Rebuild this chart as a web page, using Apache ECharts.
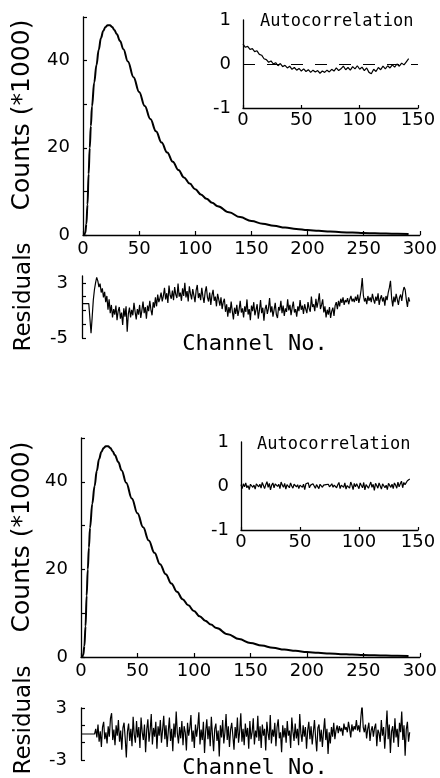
<!DOCTYPE html>
<html><head><meta charset="utf-8">
<script src="https://cdn.jsdelivr.net/npm/echarts@6.0.0/dist/echarts.min.js"></script>
<style>html,body{margin:0;padding:0;background:#fff}#c{width:440px;height:778px}</style>
</head><body><div id="c"></div>
<script>
// ---- data ----
var countsChannels = [0,1,2,3,4,5,6,7,8,10,12,14,16,18,20,22,24,26,28,30,33,36,40,45,50,55,60,65,70,75,80,85,90,95,100,105,110,115,120,130,140,150,160,170,180,190,200,210,220,230,240,250,260,270,280,290];
var countsTop = [0,0,0.5,2.5,7,14,20,25,29.5,35,39,42.5,45.2,46.8,47.7,48.1,48.1,47.7,47,46.1,44.5,42.6,39.8,36.2,32.8,29.6,26.6,23.8,21.2,18.9,16.8,14.9,13.2,11.8,10.5,9.3,8.3,7.4,6.6,5.2,4.1,3.2,2.6,2.1,1.7,1.4,1.15,0.95,0.8,0.65,0.55,0.45,0.38,0.32,0.27,0.23];
var countsBottom = [0,0,0.5,2.5,7,14,20,25,29.5,35,39,42.5,45.2,46.8,47.7,48.1,48.1,47.7,47,46.1,44.5,42.6,39.8,36.2,32.8,29.6,26.6,23.8,21.2,18.9,16.8,14.9,13.2,11.8,10.5,9.3,8.3,7.4,6.6,5.2,4.1,3.2,2.6,2.1,1.7,1.4,1.15,0.95,0.8,0.65,0.55,0.45,0.38,0.32,0.27,0.23];

var acfTopStep = 2; // channel spacing of the upper autocorrelation samples
var acfTop = [0.45,0.38,0.40,0.33,0.35,0.28,0.30,0.22,0.20,0.12,0.10,0.04,0.07,0.00,0.03,-0.04,0.01,-0.06,-0.03,-0.09,-0.05,-0.12,-0.08,-0.14,-0.10,-0.16,-0.11,-0.17,-0.13,-0.19,-0.14,-0.18,-0.15,-0.21,-0.16,-0.19,-0.14,-0.18,-0.12,-0.16,-0.09,-0.15,-0.11,-0.05,-0.13,-0.08,-0.14,-0.06,-0.11,-0.04,-0.12,-0.07,-0.15,-0.09,-0.19,-0.22,-0.12,-0.17,-0.08,-0.13,-0.05,-0.11,-0.04,-0.09,-0.02,-0.07,0.00,-0.05,0.02,-0.02,0.05,0.12];
var acfBottomStep = 1;
var acfBottom = [
 0.03,-0.06,0.05,-0.02,0.07,-0.04,0.01,-0.08,0.04,0.06,
 -0.03,0.02,-0.07,0.05,0.09,-0.02,0.04,-0.05,0.08,0.01,
 -0.06,0.03,0.10,-0.03,0.06,-0.09,0.02,0.07,-0.04,0.05,
 0.08,-0.01,0.04,-0.06,0.09,0.02,-0.03,0.06,-0.07,0.03,
 0.05,-0.04,0.07,0.00,-0.05,0.04,0.08,-0.02,0.03,-0.06,
 0.02,0.06,-0.03,0.04,-0.08,0.05,0.01,0.07,-0.04,0.02,
 -0.02,0.05,0.08,-0.05,0.03,0.00,-0.06,0.04,0.07,-0.03,
 0.02,-0.01,0.03,0.00,0.04,-0.02,0.01,0.05,-0.03,0.02,
 0.06,-0.04,0.03,0.08,-0.06,0.02,0.05,-0.03,0.07,-0.07,
 0.01,0.04,-0.05,0.09,0.02,-0.08,0.06,-0.02,0.05,0.03,
 -0.06,0.07,0.01,-0.04,0.08,-0.09,0.03,0.06,-0.05,0.02,
 0.09,-0.03,0.04,-0.10,0.06,0.01,-0.05,0.07,0.03,-0.07,
 0.05,0.08,-0.04,0.02,-0.08,0.06,0.10,-0.03,0.04,-0.06,
 0.07,0.02,-0.05,0.09,-0.02,0.05,0.11,-0.04,0.08,0.03,
 0.06,0.12,0.09,0.16];

var residStep = 1; // one residual per channel
var residTop = [
 0,0,0,0,0,0,0,0,-4.3,-2.0,
 0.5,2.0,3.0,3.8,3.3,2.4,2.9,1.6,2.2,0.9,
 1.7,0.2,1.1,-0.9,0.6,-1.4,-0.2,-2.0,-0.8,-1.6,
 -0.3,-2.4,-1.1,-0.5,-2.2,-1.3,-3.1,-0.7,-1.9,-0.4,
 -4.1,-1.5,-0.6,-2.0,-0.9,-1.7,0.1,-1.2,-2.3,-0.8,
 -1.6,-0.2,-2.1,-1.0,0.3,-1.4,-0.5,-2.2,-0.3,-1.1,
 0.4,-0.9,-1.7,0.2,-0.6,0.9,-0.4,1.3,0.2,0.8,
 1.6,0.3,1.1,2.3,0.6,1.5,0.1,2.6,1.2,0.7,
 1.9,0.5,2.4,1.3,0.8,2.9,1.0,1.6,0.4,2.2,
 1.1,3.0,0.9,1.8,0.3,2.5,1.4,0.6,2.1,1.2,
 0.2,1.9,2.7,0.8,1.5,0.5,2.3,1.0,0.1,1.7,
 2.5,0.9,0.3,1.6,-0.2,1.2,2.0,0.4,1.0,-0.4,
 1.4,0.6,-0.3,0.9,-0.8,0.2,0.7,-1.2,-0.1,-1.9,
 -0.5,-1.4,0.3,-1.1,-2.3,-0.6,-1.5,-0.2,-1.8,-0.9,
 0.4,-1.3,-0.7,-2.0,-0.4,-1.2,0.6,-1.6,-0.8,-2.4,
 -0.3,-1.1,0.2,-1.7,-0.9,-0.1,-2.2,-1.0,0.5,-1.4,
 -0.6,-2.5,-0.8,-0.2,-1.5,-0.7,0.8,-1.3,-0.4,-1.9,
 -0.9,0.1,-1.6,-2.1,-0.5,-1.0,0.4,-1.4,-0.3,-1.8,
 -0.7,-1.2,0.6,-1.0,-0.2,-1.7,-0.6,0.3,-1.3,-0.8,
 -1.9,-0.4,-1.1,0.5,-0.9,-0.3,-1.5,-0.1,-0.8,-1.4,
 0.2,-0.7,-1.2,1.0,-0.5,-0.1,-1.1,0.7,-0.6,0.3,
 1.5,-0.8,-0.2,0.6,-1.3,-0.4,-2.0,-0.9,-1.6,-0.5,
 -2.1,-1.1,-0.6,-1.8,-0.3,0.2,-0.8,0.4,-0.4,0.7,
 0.1,0.9,-0.2,0.5,0.2,0.8,-0.1,0.6,1.1,0.3,
 0.7,0.2,1.0,0.4,1.3,0.1,0.9,2.0,3.7,1.2,
 0.3,0.8,-0.1,1.1,0.4,0.9,0.2,1.4,0.6,0.0,
 1.0,0.4,1.5,-0.2,0.7,1.2,0.3,0.9,-0.3,1.1,
 0.5,1.6,2.3,3.3,0.8,-0.4,1.0,0.2,1.4,0.6,
 -0.2,0.9,1.3,0.4,1.7,2.4,2.0,0.6,-0.5,0.9,
 0.3];
var residBottom = [
 0,0,0,0,0,0,0,0,0,0,
 0,0,0,0.6,-0.4,1.1,-0.9,0.3,-1.5,0.8,
 1.4,-0.6,0.2,-1.1,0.9,-0.3,1.8,2.4,-0.7,0.5,
 -1.3,1.0,-0.2,1.6,-0.9,0.4,-1.8,0.7,1.3,-0.5,
 -2.7,0.3,1.2,-0.8,0.6,-1.4,2.0,-0.1,-1.0,1.5,
 -0.4,0.8,-1.6,1.9,0.2,-0.7,1.1,-2.1,0.5,1.7,
 -0.9,0.4,2.3,-1.2,0.7,-0.3,1.4,-1.7,0.9,-0.2,
 1.6,-1.0,0.5,2.1,-0.6,1.0,-1.5,0.3,1.9,-0.8,
 0.6,-2.0,1.2,-0.4,2.6,0.1,-1.1,0.8,-0.5,1.5,
 -1.3,0.9,0.2,-1.9,1.3,-0.2,0.7,2.2,-0.9,0.4,
 -1.6,1.1,-0.3,0.8,2.5,-1.2,0.5,-0.7,1.4,-2.2,
 0.3,1.7,-0.6,0.9,-1.4,2.0,-0.1,-2.0,0.6,1.2,
 -0.8,0.4,-2.6,1.0,-0.4,1.6,-1.1,0.2,2.3,-0.7,
 0.9,-1.5,0.5,1.3,-0.2,-1.8,0.8,-0.5,1.9,-1.0,
 0.3,2.4,-0.9,0.6,-1.3,1.2,-0.3,0.7,-1.7,1.5,
 -0.6,0.2,1.8,-1.2,0.4,-0.4,2.1,-0.8,0.9,-1.6,
 1.1,-0.2,0.6,-1.9,1.4,0.1,-0.7,2.2,-1.1,0.5,
 -0.3,1.3,-1.4,0.8,1.7,-0.5,0.2,-2.1,1.0,-0.4,
 0.7,-1.0,1.5,-0.2,0.4,-1.6,1.9,0.3,-0.8,1.2,
 -0.5,0.6,-1.3,2.3,0.1,-0.9,1.0,-0.3,0.8,-1.7,
 0.4,1.4,-0.6,0.9,-1.2,0.2,1.6,-0.4,-2.0,0.7,
 1.1,-0.9,0.5,-1.5,0.3,1.8,-0.7,0.6,-2.3,0.2,
 -1.1,0.8,-0.3,1.3,-0.6,0.4,1.0,0.1,0.9,0.3,
 0.7,-0.2,1.2,0.5,0.8,0.2,1.4,0.6,-0.4,1.1,
 0.3,0.9,0.5,1.6,0.4,1.0,0.2,2.0,3.4,0.8,
 0.2,1.1,-0.5,0.6,1.3,-0.8,0.4,0.9,-0.3,0.7,
 1.2,-1.4,0.5,0.1,-0.9,1.6,-0.2,0.8,-1.7,0.4,
 2.7,-0.6,1.1,-2.2,0.3,0.9,-1.0,1.8,-0.4,0.6,
 -1.5,1.3,0.2,2.6,-0.7,1.0,-2.5,0.5,1.4,-0.9,
 0.2];

var mainYLabels = [0, 20, 40];
var residTopTicks = [-5, -3, -1, 1, 3];
var residTopLabels = [-5, 3];
var residBottomTicks = [-3, -1, 1, 3];
var residBottomLabels = [-3, 3];

// ---- chart ----
var INK = '#000';
var FONT = 'DejaVu Sans';
var axLine = {show: true, onZero: false, lineStyle: {color: INK, width: 1.3}};
var tickStyle = {color: INK, width: 1.2};

function mainX(g) {
  return {gridIndex: g, type: 'value', min: 0, max: 300, interval: 50,
    axisLine: axLine, axisTick: {show: true, inside: true, length: 4, lineStyle: tickStyle},
    axisLabel: {margin: 5, fontSize: 18, color: INK, fontFamily: FONT}, splitLine: {show: false}};
}
function mainY(g) {
  return {gridIndex: g, type: 'value', min: 0, max: 50, interval: 10,
    axisLine: axLine, axisTick: {show: true, inside: true, length: 4, lineStyle: tickStyle},
    axisLabel: {margin: 13, fontSize: 18, color: INK, fontFamily: FONT,
      formatter: function (v) { return mainYLabels.indexOf(v) >= 0 ? String(v) : ''; }},
    splitLine: {show: false}};
}
function insetX(g) {
  return {gridIndex: g, type: 'value', min: 0, max: 150, interval: 50,
    axisLine: axLine, axisTick: {show: true, inside: true, length: 3, lineStyle: tickStyle},
    axisLabel: {margin: 3, fontSize: 18, color: INK, fontFamily: FONT}, splitLine: {show: false}};
}
function insetY(g) {
  return {gridIndex: g, type: 'value', min: -1, max: 1, interval: 1,
    axisLine: axLine, axisTick: {show: false},
    axisLabel: {margin: 12, fontSize: 18, color: INK, fontFamily: FONT}, splitLine: {show: false}};
}
function residX(g) {
  return {gridIndex: g, type: 'value', min: 0, max: 300, show: false};
}
function residY(g, min, max, ticks, labels) {
  return {gridIndex: g, type: 'value', min: min, max: max,
    axisLine: axLine,
    axisTick: {show: true, inside: true, length: 4, lineStyle: tickStyle, customValues: ticks},
    axisLabel: {margin: 14, fontSize: 18, color: INK, fontFamily: FONT, customValues: labels},
    splitLine: {show: false}};
}

function pairs(xs, ys) { return ys.map(function (v, i) { return [xs[i], v]; }); }
function stepped(ys, step) { return ys.map(function (v, i) { return [i * step, v]; }); }

function label(text, x, y, size, family, rot, align) {
  return {type: 'text', x: x, y: y, rotation: rot || 0,
    style: {text: text, fontSize: size, fontFamily: family, fill: INK,
      align: align || 'center', verticalAlign: 'middle'}};
}

var option = {
  animation: false,
  backgroundColor: '#fff',
  textStyle: {fontFamily: FONT, color: INK},
  grid: [
    {left: 83, top: 17, width: 338, height: 218},
    {left: 243, top: 20, width: 175, height: 88},
    {left: 82, top: 276, width: 339, height: 62},
    {left: 81, top: 438, width: 340, height: 219},
    {left: 241, top: 442, width: 177, height: 88},
    {left: 81, top: 708, width: 340, height: 52}
  ],
  xAxis: [mainX(0), insetX(1), residX(2), mainX(3), insetX(4), residX(5)],
  yAxis: [mainY(0), insetY(1),
          residY(2, -5, 4, residTopTicks, residTopLabels),
          mainY(3), insetY(4),
          residY(5, -3, 3, residBottomTicks, residBottomLabels)],
  series: [
    {type: 'line', xAxisIndex: 0, yAxisIndex: 0, data: pairs(countsChannels, countsTop),
     showSymbol: false, smooth: 0.4, smoothMonotone: 'x', lineStyle: {color: INK, width: 2}},
    {type: 'line', xAxisIndex: 1, yAxisIndex: 1, data: stepped(acfTop, acfTopStep),
     showSymbol: false, lineStyle: {color: INK, width: 1.2},
     markLine: {silent: true, symbol: 'none', label: {show: false},
       lineStyle: {color: INK, width: 1.2, type: [12, 12]}, data: [{yAxis: 0}]}},
    {type: 'line', xAxisIndex: 2, yAxisIndex: 2, data: stepped(residTop, residStep),
     showSymbol: false, lineStyle: {color: INK, width: 1.2}},
    {type: 'line', xAxisIndex: 3, yAxisIndex: 3, data: pairs(countsChannels, countsBottom),
     showSymbol: false, smooth: 0.4, smoothMonotone: 'x', lineStyle: {color: INK, width: 2}},
    {type: 'line', xAxisIndex: 4, yAxisIndex: 4, data: stepped(acfBottom, acfBottomStep),
     showSymbol: false, lineStyle: {color: INK, width: 1.2}},
    {type: 'line', xAxisIndex: 5, yAxisIndex: 5, data: stepped(residBottom, residStep),
     showSymbol: false, lineStyle: {color: INK, width: 1.2}}
  ],
  graphic: [
    label('Counts (*1000)', 22, 115, 25, 'DejaVu Sans', Math.PI / 2),
    label('Residuals', 24, 297, 23, 'DejaVu Sans', Math.PI / 2),
    label('Channel No.', 255, 344, 22, 'DejaVu Sans Mono'),
    label('Autocorrelation', 260, 22, 17, 'DejaVu Sans Mono', 0, 'left'),
    label('Counts (*1000)', 22, 537, 25, 'DejaVu Sans', Math.PI / 2),
    label('Residuals', 24, 720, 23, 'DejaVu Sans', Math.PI / 2),
    label('Channel No.', 255, 768, 22, 'DejaVu Sans Mono'),
    label('Autocorrelation', 257, 445, 17, 'DejaVu Sans Mono', 0, 'left')
  ]
};

var chart = echarts.init(document.getElementById('c'), null, {renderer: 'canvas'});
window.chart = chart;
chart.setOption(option);
</script></body></html>
